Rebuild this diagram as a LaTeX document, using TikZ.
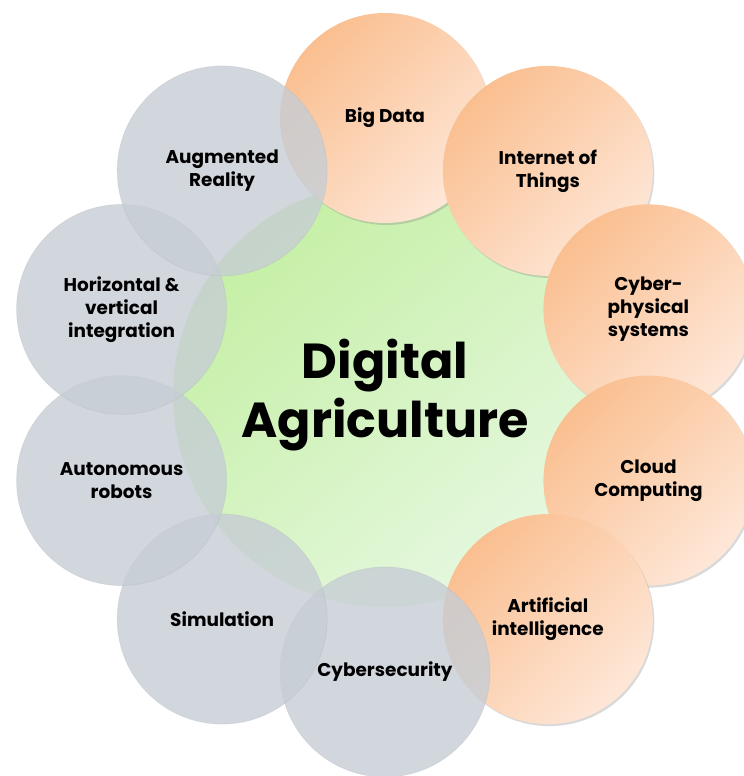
\documentclass[tikz,border=0pt]{standalone}
\usepackage{fontspec}
\setmainfont{Poppins}
\usepackage{xcolor}
\usepackage{tikz}
\usetikzlibrary{shadows}

\definecolor{hubgreenA}{HTML}{C4EFA4}
\definecolor{hubgreenB}{HTML}{E6F8E0}
\definecolor{techorangeA}{HTML}{FABF90}
\definecolor{techorangeB}{HTML}{FEE7D8}
\definecolor{techgray}{HTML}{C6CDD5}

\begin{document}
\begin{tikzpicture}[
  hub/.style={circle,minimum size=8.48cm,top color=hubgreenA,bottom color=hubgreenB,shading angle=40,font=\fontsize{28}{34}\selectfont\bfseries,align=center},
  techwarm/.style={circle,minimum size=4.2cm,top color=techorangeA,bottom color=techorangeB,shading angle=45,drop shadow={opacity=0.3,shadow xshift=0.03cm,shadow yshift=-0.04cm},font=\fontsize{10.5}{13}\selectfont\bfseries,align=center},
  techcool/.style={circle,minimum size=4.2cm,fill=techgray,fill opacity=0.8,text opacity=1,draw=techgray!85!black,draw opacity=0.25,font=\fontsize{10.5}{13}\selectfont\bfseries,align=center}
]

\useasboundingbox (-7.70,-7.62) rectangle (7.18,7.90);

\node[hub] (digital) at (0,0) {Digital\\Agriculture};

\node[techwarm] (bigdata) at (90:5.54) {Big Data};
\node[techwarm] (iot) at (54:5.54) {Internet of\\Things};
\node[techwarm] (cps) at (18:5.54) {Cyber-\\physical\\systems};
\node[techwarm] (cloud) at (-18:5.54) {Cloud\\Computing};
\node[techwarm] (ai) at (-54:5.54) {Artificial\\intelligence};

\node[techcool] (cybersec) at (-90:5.54) {Cybersecurity};
\node[techcool] (simulation) at (-126:5.54) {Simulation};
\node[techcool] (robots) at (-162:5.54) {Autonomous\\robots};
\node[techcool] (integration) at (162:5.54) {Horizontal \&\\vertical\\integration};
\node[techcool] (ar) at (126:5.54) {Augmented\\Reality};

\end{tikzpicture}
\end{document}
